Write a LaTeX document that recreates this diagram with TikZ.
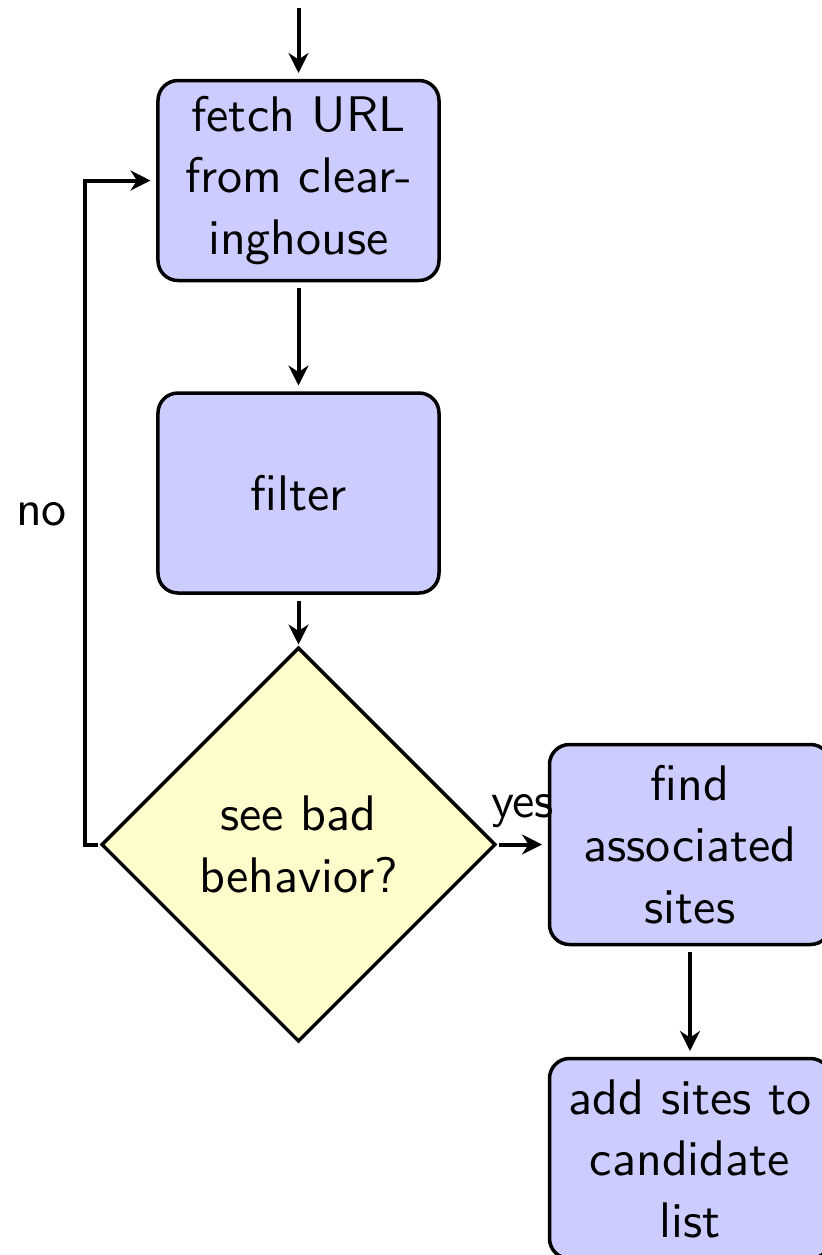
\documentclass[tikz,border=0pt]{standalone}
\usetikzlibrary{shapes.geometric,arrows.meta}
\begin{document}
\begin{tikzpicture}[x=0.2pt,y=-0.2pt,font=\sffamily,
  blockbox/.style={draw,line width=0.7pt,fill=blue!20,rounded corners=4pt,
    minimum width=56.2pt,minimum height=40pt,align=center,inner sep=0pt,outer sep=1.5pt,
    font=\sffamily\fontsize{10pt}{12.3pt}\selectfont},
  decisionbox/.style={draw,diamond,line width=0.7pt,fill=yellow!20,
    minimum width=79pt,minimum height=79pt,align=center,inner sep=0pt,outer sep=0.5pt,
    font=\sffamily\fontsize{10pt}{12.3pt}\selectfont},
  flowline/.style={draw,line width=0.8pt,-{Stealth[length=4pt,width=4pt,inset=1.3pt]}},
  lbl/.style={anchor=base,inner sep=0pt}]
\useasboundingbox (0,0) rectangle (822,1255);
\node[blockbox] (b1) at (298.5,180.5) {fetch URL\\from clear-\\inghouse};
\node[blockbox] (b2) at (298.5,493) {filter};
\node[decisionbox] (d) at (298.5,844.5) {see bad\\behavior?};
\node[blockbox] (b3) at (690,844.5) {find\\associated\\sites};
\node[blockbox] (b4) at (690,1158.5) {add sites to\\candidate\\list};
\coordinate (start) at (298.5,8);
\coordinate (lp) at (85,844.5);
\draw[flowline] (start) -- (b1);
\draw[flowline] (b1) -- (b2);
\draw[flowline] (b2) -- (d);
\draw[flowline] (d) -- (b3);
\draw[flowline] (b3) -- (b4);
\draw[flowline] (d.west) -- (lp) |- (b1.west);
\node[lbl] (no) at (41.5,525) {no};
\node[lbl] (yes) at (522.5,817) {yes};
\end{tikzpicture}
\end{document}
